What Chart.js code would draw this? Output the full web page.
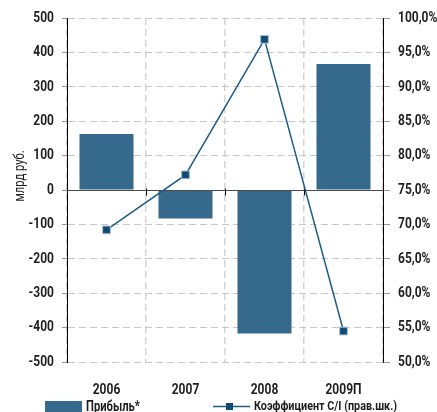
<!DOCTYPE html>
<html>
<head>
<meta charset="utf-8">
<script src="https://cdn.jsdelivr.net/npm/chart.js@4"></script>
<style>
  html, body { margin: 0; padding: 0; background: #fff; }
  #chart { display: block; }
</style>
</head>
<body>
<canvas id="chart" width="437" height="412"></canvas>
<script>
'use strict';

// ---------------------------------------------------------------------------
// Data
// ---------------------------------------------------------------------------

const years = ['2006', '2007', '2008', '2009П'];
const profit = [163, -83, -417, 366];          // млрд руб.
const costIncome = [69.2, 77.2, 96.9, 54.5];   // %, right axis

const profitLabel = 'Прибыль*';
const ratioLabel = 'Коэффициент С/I (прав.шк.)';
const axisTitle = 'млрд руб.';

// ---------------------------------------------------------------------------
// Styles
// ---------------------------------------------------------------------------

const FONT = "Roboto, 'Liberation Sans', sans-serif";
const NARROW = 0.8;   // horizontal squeeze for a condensed look
const BAR_COLOR = '#356a8c';
const LINE_COLOR = '#1d5c87';
const POINT_COLOR = '#0f4b74';
const GRID_COLOR = '#c8c8c8';
const TEXT_COLOR = '#1e1e1e';

/**
 * Draw condensed text (no narrow font is available, so squeeze horizontally)
 */
function narrowText(ctx, text, x, y, opts) {
    const o = Object.assign({ size: 15, weight: 'bold', align: 'left', baseline: 'middle', rotate: 0 }, opts);
    ctx.save();
    ctx.translate(x, y);
    if (o.rotate) ctx.rotate(o.rotate);
    ctx.scale(NARROW, 1);
    ctx.font = `${o.weight} ${o.size}px ${FONT}`;
    ctx.fillStyle = TEXT_COLOR;
    ctx.textAlign = o.align;
    ctx.textBaseline = o.baseline;
    ctx.fillText(text, 0, 0);
    ctx.restore();
}

// zero line over the bars + short ticks at category boundaries
const zeroLinePlugin = {
    id: 'zeroLine',
    afterDatasetDraw(chart, args) {
        if (args.meta.type !== 'bar') return;
        const { ctx, chartArea, scales } = chart;
        const y0 = Math.round(scales.y.getPixelForValue(0)) + 0.5;
        ctx.save();
        ctx.strokeStyle = '#4a4a4a';
        ctx.lineWidth = 1;
        ctx.beginPath();
        ctx.moveTo(chartArea.left, y0);
        ctx.lineTo(chartArea.right, y0);
        ctx.stroke();

        ctx.strokeStyle = '#000';
        const step = (chartArea.right - chartArea.left) / years.length;
        for (let i = 1; i < years.length; i++) {
            const x = Math.round(chartArea.left + step * i) + 0.5;
            ctx.beginPath();
            ctx.moveTo(x, y0 - 2);
            ctx.lineTo(x, y0 + 5);
            ctx.stroke();
        }
        ctx.restore();
    }
};

// tick labels, axis title and legend
const labelsPlugin = {
    id: 'labels',
    afterDraw(chart) {
        const { ctx, scales } = chart;

        scales.y.ticks.forEach((t, i) => {
            narrowText(ctx, t.label, 54, scales.y.getPixelForTick(i), { align: 'right' });
        });
        scales.y1.ticks.forEach((t, i) => {
            narrowText(ctx, t.label, 398, scales.y1.getPixelForTick(i), { align: 'left' });
        });
        scales.x.ticks.forEach((t, i) => {
            narrowText(ctx, years[i], scales.x.getPixelForTick(i), 390, { align: 'center', size: 15 });
        });

        narrowText(ctx, axisTitle, 20, 176, {
            align: 'center', weight: 'normal', size: 14, rotate: -Math.PI / 2
        });

        // legend
        ctx.save();
        ctx.fillStyle = BAR_COLOR;
        ctx.fillRect(45, 401, 37, 12);
        ctx.strokeStyle = LINE_COLOR;
        ctx.lineWidth = 1.5;
        ctx.beginPath();
        ctx.moveTo(213, 406.5);
        ctx.lineTo(250, 406.5);
        ctx.stroke();
        ctx.fillStyle = POINT_COLOR;
        ctx.fillRect(226, 403, 7, 7);
        ctx.restore();

        narrowText(ctx, profitLabel, 86, 407, { size: 14 });
        narrowText(ctx, ratioLabel, 254, 407, { size: 13.5 });
    }
};

const canvas = document.getElementById('chart');

new Chart(canvas, {
    data: {
        labels: years,
        datasets: [
            {
                type: 'line',
                label: ratioLabel,
                data: costIncome,
                yAxisID: 'y1',
                order: 0,
                borderColor: LINE_COLOR,
                borderWidth: 1.5,
                tension: 0,
                pointStyle: 'rect',
                pointRadius: 5.5,
                pointBackgroundColor: POINT_COLOR,
                pointBorderColor: '#a9c0d0',
                pointBorderWidth: 1
            },
            {
                type: 'bar',
                label: profitLabel,
                data: profit,
                yAxisID: 'y',
                order: 1,
                backgroundColor: BAR_COLOR,
                categoryPercentage: 1,
                barPercentage: 0.684
            }
        ]
    },
    options: {
        responsive: false,
        animation: false,
        layout: { padding: { top: 18, left: 0, right: 0, bottom: 0 } },
        plugins: {
            legend: { display: false },
            tooltip: { enabled: false }
        },
        scales: {
            x: {
                offset: true,
                afterFit: scale => { scale.height = 50; },
                grid: {
                    color: '#d4d4d4',
                    lineWidth: 1.5,
                    drawTicks: false,
                    offset: true
                },
                border: { display: false, dash: [7, 4] },
                ticks: { display: false }
            },
            y: {
                position: 'left',
                min: -500,
                max: 500,
                afterFit: scale => { scale.width = 67; },
                grid: {
                    color: GRID_COLOR,
                    lineWidth: 1,
                    tickColor: '#999',
                    tickLength: 5
                },
                border: { display: true, color: '#000', width: 1, dash: [7, 4] },
                ticks: { stepSize: 100, display: false }
            },
            y1: {
                position: 'right',
                min: 50,
                max: 100,
                afterFit: scale => { scale.width = 54; },
                grid: {
                    drawOnChartArea: false,
                    tickColor: '#999',
                    tickLength: 7
                },
                border: { display: true, color: '#000', width: 1 },
                ticks: {
                    stepSize: 5,
                    display: false,
                    callback: v => v.toFixed(1).replace('.', ',') + '%'
                }
            }
        }
    },
    plugins: [zeroLinePlugin, labelsPlugin]
});
</script>
</body>
</html>
